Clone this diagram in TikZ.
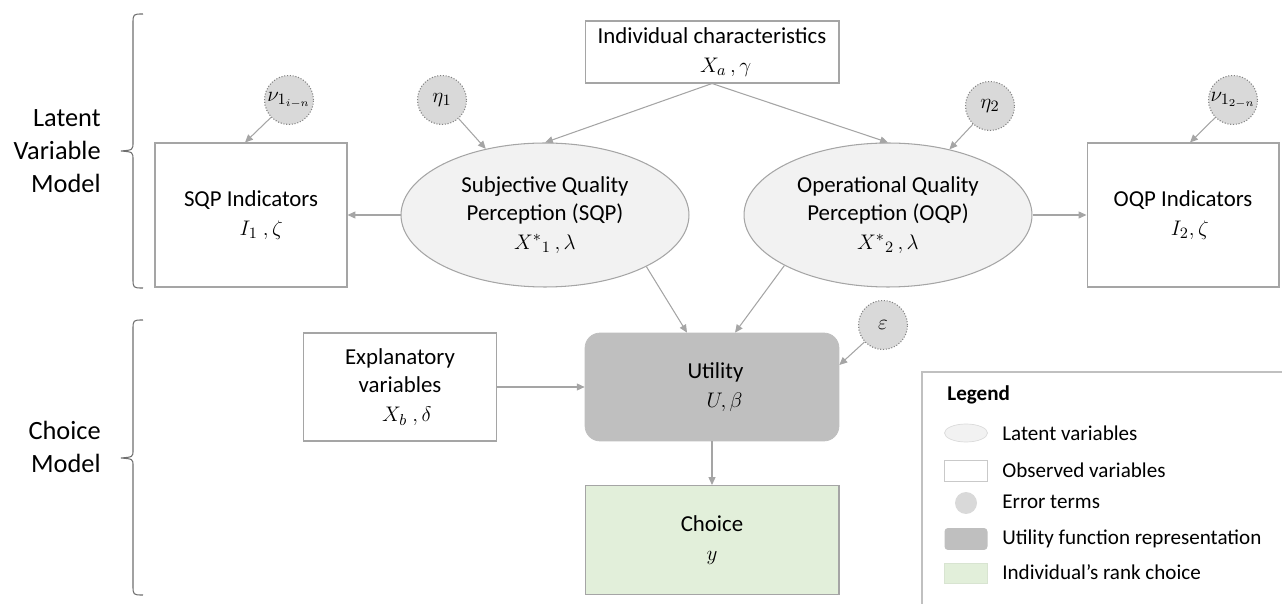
\documentclass[tikz,border=0pt]{standalone}
\usepackage{fontspec}
\setmainfont{Carlito}
\usetikzlibrary{arrows.meta,shapes.geometric}

\definecolor{linegray}{RGB}{165,165,165}
\definecolor{latfill}{RGB}{242,242,242}
\definecolor{errfill}{RGB}{217,217,217}
\definecolor{utilfill}{RGB}{191,191,191}
\definecolor{choicefill}{RGB}{226,239,218}
\definecolor{bracegray}{RGB}{110,110,110}

\begin{document}
\begin{tikzpicture}
[
  x=0.02cm, y=-0.02cm,
  >={Triangle[length=4.5pt,width=4pt]},
  txt/.style = {font=\fontsize{13}{16.2}\selectfont, align=center, inner sep=0pt},
  obs/.style = {txt, draw=linegray, line width=0.6pt, fill=white, rectangle},
  latent/.style = {txt, draw=linegray, line width=0.6pt, fill=latfill, ellipse, minimum width=5.76cm, minimum height=2.88cm},
  err/.style = {txt, draw=gray, densely dotted, line width=0.6pt, fill=errfill, circle, minimum size=0.98cm},
  link/.style = {->, draw=linegray, line width=0.6pt},
  side/.style = {font=\fontsize{15}{18.7}\selectfont, align=right, anchor=east, inner sep=0pt},
  legtxt/.style = {font=\fontsize{12}{14}\selectfont, anchor=west, inner sep=0pt},
]
\useasboundingbox (0,0) rectangle (1282,604);
\clip (0,0) rectangle (1282,604);

\node (IC) at (712,52) [obs, minimum width=5.08cm, minimum height=1.24cm] {Individual characteristics\\ \hspace*{1.2em}$X_a\,,\gamma$};
\node (SQPI) at (251,215) [obs, minimum width=3.84cm, minimum height=2.88cm] {SQP Indicators\\ \hspace*{0.9em}$I_1\ ,\zeta$};
\node (OQPI) at (1183,215) [obs, minimum width=3.84cm, minimum height=2.88cm] {OQP Indicators\\ \hspace*{0.6em}$I_2,\zeta$};
\node (SQP) at (545,215) [latent] {Subjective Quality\\Perception (SQP)\\$X^{*}{}_{1}\,,\lambda$};
\node (OQP) at (888,215) [latent] {Operational Quality\\Perception (OQP)\\$X^{*}{}_{2}\,,\lambda$};
\node (NU1) at (289,100) [err] {$\nu_{1_{i-n}}$};
\node (ETA1) at (442,100) [err] {$\eta_1$};
\node (ETA2) at (990,106) [err] {$\eta_2$};
\node (NU2) at (1233,100) [err] {$\nu_{1_{2-n}}$};
\node (EPS) at (883,325) [err] {$\varepsilon$};
\node (EXP) at (400,387) [obs, minimum width=3.86cm, minimum height=2.16cm] {Explanatory\\variables\\ \hspace*{0.6em}$X_b\ ,\delta$};
\node (U) at (712,387) [txt, fill=utilfill, draw=utilfill, rounded corners=0.3cm, minimum width=5.08cm, minimum height=2.16cm] {\hspace*{0.3em}Utility\\ \hspace*{1.1em}$U,\beta$};
\node (C) at (712,540) [obs, fill=choicefill, minimum width=5.08cm, minimum height=2.18cm] {Choice\\$y$};

\draw[link] (IC.south) -- (SQP.north);
\draw[link] (IC.south) -- (OQP.north);
\draw[link] (ETA1) -- (SQP);
\draw[link] (ETA2) -- (OQP);
\draw[link] (NU1) -- ([xshift=-0.12cm]SQPI.north);
\draw[link] (NU2) -- ([xshift=0.14cm]OQPI.north);
\draw[link] (SQP.west) -- (SQPI.east);
\draw[link] (OQP.east) -- (OQPI.west);
\draw[link] (SQP.-27) -- ([xshift=-0.5cm]U.north);
\draw[link] (OQP.206) -- ([xshift=0.46cm]U.north);
\draw[link] (EPS) -- ([yshift=0.44cm]U.east);
\draw[link] (EXP.east) -- (U.west);
\draw[link] (U.south) -- (C.north);

\draw[bracegray, line width=0.6pt] (143,14) .. controls (133,14) .. (133,24) -- (133,142) .. controls (133,150) .. (121,151) .. controls (133,152) .. (133,160) -- (133,278) .. controls (133,288) .. (143,288);
\draw[bracegray, line width=0.6pt] (143,320) .. controls (133,320) .. (133,330) -- (133,450) .. controls (133,457) .. (121,458) .. controls (133,459) .. (133,466) -- (133,585) .. controls (133,595) .. (143,595);
\node (LVM) at (101,151) [side] {Latent\\Variable\\Model};
\node (CM) at (101,447) [side] {Choice\\Model};

\draw[draw=linegray!70, line width=0.6pt] (922,372) rectangle (1290,620);
\node (LEG) at (947,395) [legtxt, font=\fontsize{12}{14}\selectfont\bfseries] {Legend};
\node (L1) at (966,433) [ellipse, fill=latfill, draw=latfill!80!gray, minimum width=0.86cm, minimum height=0.36cm, inner sep=0pt] {};
\node (L2) at (966,471) [rectangle, draw=linegray!60, fill=white, minimum width=0.86cm, minimum height=0.42cm, inner sep=0pt] {};
\node (L3) at (966,503) [circle, fill=errfill, minimum size=0.44cm, inner sep=0pt] {};
\node (L4) at (966,539) [rectangle, rounded corners=2pt, fill=utilfill, minimum width=0.86cm, minimum height=0.44cm, inner sep=0pt] {};
\node (L5) at (966,573) [rectangle, fill=choicefill, draw=choicefill!90!gray, minimum width=0.86cm, minimum height=0.4cm, inner sep=0pt] {};
\node (T1) at (1002,433) [legtxt] {Latent variables};
\node (T2) at (1002,470) [legtxt] {Observed variables};
\node (T3) at (1002,502) [legtxt] {Error terms};
\node (T4) at (1002,539) [legtxt] {Utility function representation};
\node (T5) at (1002,572) [legtxt] {Individual’s rank choice};

\end{tikzpicture}
\end{document}
